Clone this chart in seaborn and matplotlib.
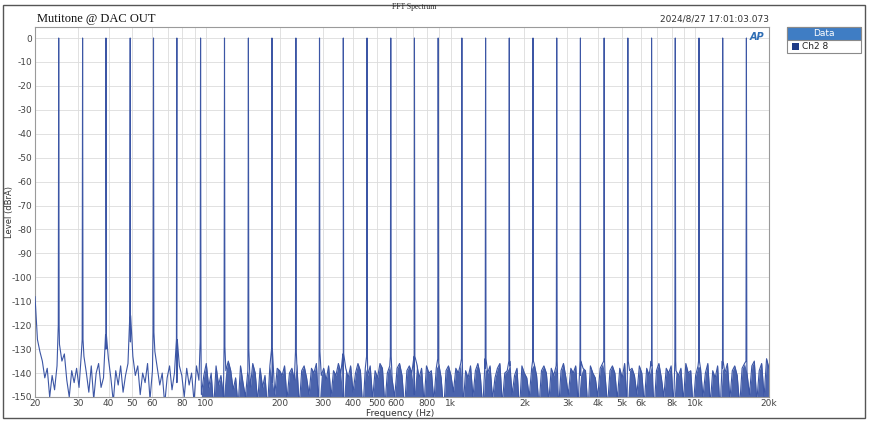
import numpy as np
import pandas as pd
import matplotlib
matplotlib.use("Agg")
import matplotlib.pyplot as plt
import seaborn as sns
from matplotlib.patches import Rectangle

# tone frequencies (Hz), all peaks reach ~0 dBrA
tone_freqs = [25, 31.3, 39, 49, 61, 76, 95, 119, 149, 186,
              233, 291, 364, 455, 569, 711, 889, 1111, 1389, 1736,
              2170, 2713, 3391, 4239, 5298, 6623, 8279, 10348, 12935, 16169]
tone_levels = [0.0] * 30
# where each peak widens into its skirt
skirt_levels = [-120, -126, -124, -116, -123, -126, -127, -129, -130, -130,
                -131, -131, -132, -133, -133, -133, -134, -134, -134, -135,
                -135, -135, -135, -135, -135, -135, -135, -135, -135, -135]

# noise floor, one value per 0.01 decade from 20 Hz to 20 kHz
noise_floor = [
    -108, -126, -131, -135, -142, -138, -150, -141, -147, -137,
    -128, -135, -132, -143, -150, -139, -144, -138, -146, -131,
    -133, -140, -148, -137, -151, -140, -136, -146, -142, -130,
    -134, -142, -152, -139, -145, -137, -148, -141, -136, -127,
    -133, -141, -137, -149, -140, -144, -136, -151, -139, -131,
    -138, -145, -140, -153, -142, -137, -147, -140, -144, -137,
    -141, -150, -138, -145, -140, -152, -137, -143, -149, -141,
    -136, -146, -140, -155, -137, -145, -141, -150, -139, -135,
    -139, -147, -142, -154, -137, -144, -150, -139, -146, -136,
    -140, -152, -138, -146, -141, -155, -137, -144, -149, -138,
    -139, -141, -137, -151, -140, -138, -143, -136, -154, -139,
    -137, -142, -149, -138, -140, -136, -155, -141, -138, -143,
    -137, -150, -139, -141, -136, -140, -153, -138, -142, -137,
    -148, -140, -136, -139, -156, -138, -141, -137, -151, -139,
    -142, -136, -138, -154, -140, -137, -143, -150, -138, -136,
    -141, -155, -139, -137, -140, -149, -136, -142, -138, -153,
    -137, -140, -139, -152, -138, -136, -142, -156, -139, -137,
    -141, -148, -138, -140, -136, -154, -139, -142, -137, -150,
    -139, -136, -141, -155, -138, -140, -137, -151, -142, -138,
    -136, -153, -140, -139, -137, -149, -141, -138, -156, -137,
    -140, -142, -150, -138, -136, -141, -154, -139, -137, -140,
    -152, -138, -141, -137, -155, -139, -136, -142, -149, -138,
    -140, -137, -153, -141, -138, -139, -156, -137, -140, -142,
    -150, -138, -136, -141, -154, -139, -137, -140, -151, -138,
    -142, -136, -155, -139, -138, -141, -149, -137, -140, -153,
    -138, -141, -137, -156, -139, -136, -142, -150, -138, -140,
    -137, -154, -139, -141, -138, -152, -136, -140, -139, -155,
    -141, -137, -138, -150, -140, -136, -153, -139, -142, -137,
    -156, -138, -140, -136, -151, -139, -137, -141, -154, -138,
    -136, -140, -149, -137, -135, -152, -139, -136, -150, -134,
    -138]

xtick_vals = [20, 30, 40, 50, 60, 80, 100, 200, 300, 400, 500, 600, 800,
              1000, 2000, 3000, 4000, 5000, 6000, 8000, 10000, 20000]
xtick_labels = ["20", "30", "40", "50", "60", "80", "100", "200", "300", "400",
                "500", "600", "800", "1k", "2k", "3k", "4k", "5k", "6k", "8k",
                "10k", "20k"]
xgrid_extra = [70, 90, 700, 900, 7000, 9000]
ytick_vals = list(range(0, -151, -10))

# build spectrum: noise bins + tone peaks with skirts
noise_freq = np.geomspace(20, 20000, len(noise_floor))
f_all = list(noise_freq)
l_all = list(noise_floor)
for f, lv, sk in zip(tone_freqs, tone_levels, skirt_levels):
    f_all += [f / 1.004, f, f * 1.004]
    l_all += [sk, lv, sk]
df = pd.DataFrame({"freq": f_all, "level": l_all}).sort_values("freq")

line_col = "#3C56A5"

sns.set_style("white")
fig = plt.figure(figsize=(8.69, 4.24), dpi=100)
W, H = 869, 424
ax = fig.add_axes([35 / W, 1 - 397 / H, (769 - 35) / W, (397 - 27) / H])

# dense bins above ~100 Hz read as a solid band under the noise tops
nf = pd.DataFrame({"freq": noise_freq, "level": noise_floor})
hi = nf[nf["freq"] >= 95]
ax.fill_between(hi["freq"].to_numpy(), hi["level"].to_numpy(), -160,
                color="#4A63AC", linewidth=0, zorder=2)
sns.lineplot(data=df, x="freq", y="level", estimator=None, sort=False,
             color=line_col, linewidth=0.8, ax=ax, zorder=3)

ax.set_xscale("log")
ax.set_xlim(20, 20000)
ax.set_ylim(-150, 4.6)
ax.set_xticks(xtick_vals)
ax.set_xticklabels(xtick_labels)
ax.set_xticks(xgrid_extra, minor=True)
ax.set_yticks(ytick_vals)
ax.set_yticklabels([str(v) for v in ytick_vals])
ax.tick_params(axis="both", which="both", length=0, labelsize=6.5,
               labelcolor="#444444")
ax.tick_params(axis="x", pad=1.5)
ax.tick_params(axis="y", pad=2)
ax.grid(True, which="both", color="#DCDCDC", linewidth=0.6)
ax.set_axisbelow(True)
for s in ax.spines.values():
    s.set_color("#9A9A9A")
    s.set_linewidth(0.8)
ax.set_xlabel("")
ax.set_ylabel("")

fig.text(400 / W, 1 - 413 / H, "Frequency (Hz)", ha="center", va="center",
         fontsize=6.5, color="#333333")
fig.text(10 / W, 1 - 212 / H, "Level (dBrA)", ha="center", va="center",
         rotation=90, fontsize=6, color="#333333")
fig.text(414 / W, 1 - 7 / H, "FFT Spectrum", ha="center", va="center",
         fontsize=5.5, family="Liberation Serif", color="#222222")
fig.text(37 / W, 1 - 19 / H, "Mutitone @ DAC OUT", ha="left", va="center",
         fontsize=9, family="Liberation Serif", color="#111111")
fig.text(769 / W, 1 - 19 / H, "2024/8/27 17:01:03.073", ha="right",
         va="center", fontsize=6.5, color="#333333")
fig.text(757 / W, 1 - 37 / H, "AP", ha="center", va="center", fontsize=7,
         fontweight="bold", fontstyle="italic", color="#2E6DB4")

# outer frame
fig.patches.append(Rectangle((3 / W, 1 - 418 / H), 862 / W, 413 / H,
                             transform=fig.transFigure, fill=False,
                             edgecolor="#555555", linewidth=1))
# legend box
fig.patches.append(Rectangle((787 / W, 1 - 53 / H), 74 / W, 26 / H,
                             transform=fig.transFigure, facecolor="white",
                             edgecolor="#8A8A8A", linewidth=0.8))
fig.patches.append(Rectangle((787 / W, 1 - 40 / H), 74 / W, 13 / H,
                             transform=fig.transFigure, facecolor="#3F7DC4",
                             edgecolor="#8A8A8A", linewidth=0.8))
fig.text(824 / W, 1 - 33.5 / H, "Data", ha="center", va="center",
         fontsize=6.5, color="white")
fig.patches.append(Rectangle((792 / W, 1 - 50 / H), 7 / W, 7 / H,
                             transform=fig.transFigure, facecolor="#1F3C88",
                             edgecolor="none"))
fig.text(802 / W, 1 - 46.5 / H, "Ch2 8", ha="left", va="center",
         fontsize=6.5, color="#222222")

fig.savefig("out.png", dpi=100)
